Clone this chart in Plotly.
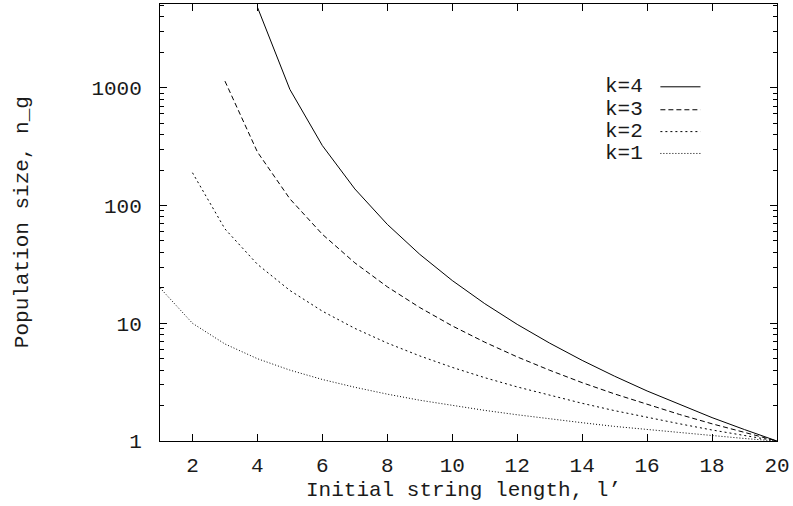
import plotly.graph_objects as go

FONT = "Liberation Mono"
FS = 21
TXT = "#1a1a1a"

# Data
l_k4 = list(range(4, 21))
n_k4 = [4845, 969, 323, 138.4, 69.2, 38.5, 23.07, 14.68, 9.79, 6.78, 4.84, 3.55, 2.66, 2.04, 1.58, 1.25, 1.0]
l_k3 = list(range(3, 21))
n_k3 = [1140, 285, 114, 57, 32.6, 20.4, 13.6, 9.5, 6.91, 5.18, 3.99, 3.13, 2.51, 2.04, 1.68, 1.40, 1.18, 1.0]
l_k2 = list(range(2, 21))
n_k2 = [190, 63.3, 31.7, 19, 12.67, 9.05, 6.79, 5.28, 4.22, 3.45, 2.88, 2.44, 2.09, 1.81, 1.58, 1.40, 1.24, 1.11, 1.0]
l_k1 = list(range(1, 21))
n_k1 = [20, 10, 6.67, 5, 4, 3.33, 2.86, 2.5, 2.22, 2, 1.82, 1.67, 1.54, 1.43, 1.33, 1.25, 1.18, 1.11, 1.05, 1.0]

series_labels = ["k=4", "k=3", "k=2", "k=1"]
series_x = [l_k4, l_k3, l_k2, l_k1]
series_y = [n_k4, n_k3, n_k2, n_k1]
dashes = ["solid", "5px,3px", "2px,3px", "1px,2px"]

x_ticks = [2, 4, 6, 8, 10, 12, 14, 16, 18, 20]
y_ticks = [1, 10, 100, 1000]
y_ticktext = ["1", "10", "100", "1000"]
y_minor = [m * d for d in (1, 10, 100, 1000) for m in range(2, 10)]

fig = go.Figure()
for lab, xs, ys, dsh in zip(series_labels, series_x, series_y, dashes):
    fig.add_trace(go.Scatter(x=xs, y=ys, mode="lines", name=lab,
                             line=dict(color="black", width=1, dash=dsh),
                             showlegend=False))

# invisible trace on yaxis2 to activate minor-tick axis
fig.add_trace(go.Scatter(x=[1], y=[1], yaxis="y2", mode="markers",
                         marker=dict(opacity=0), showlegend=False, hoverinfo="skip"))

yr = [0, 3.712]
fig.update_layout(
    width=793, height=506,
    margin=dict(l=160, r=13, t=3, b=65),
    paper_bgcolor="white", plot_bgcolor="white",
    font=dict(family=FONT, size=FS, color=TXT),
    xaxis=dict(range=[1, 20], tickvals=x_ticks, ticks="inside", ticklen=7,
               tickcolor="black", tickwidth=1, showline=True, linecolor="black",
               linewidth=1, mirror="ticks", showgrid=False, zeroline=False,
               tickfont=dict(family=FONT, size=FS, color=TXT), ticklabelstandoff=5),
    yaxis=dict(type="log", range=yr, tickvals=y_ticks, ticktext=y_ticktext,
               ticks="inside", ticklen=7, tickcolor="black", tickwidth=1,
               showline=True, linecolor="black", linewidth=1, mirror="ticks",
               showgrid=False, zeroline=False,
               tickfont=dict(family=FONT, size=FS, color=TXT), ticklabelstandoff=13),
    yaxis2=dict(type="log", range=yr, overlaying="y", side="left",
                tickvals=y_minor, ticks="inside", ticklen=4, tickcolor="black",
                tickwidth=1, showticklabels=False, showgrid=False,
                zeroline=False, showline=False, mirror="ticks"),
    showlegend=False,
)

# axis titles
fig.add_annotation(text="Initial string length, l\u2019", xref="paper", yref="paper",
                   x=0.492, y=-0.1142, xanchor="center", yanchor="middle",
                   showarrow=False, font=dict(family=FONT, size=FS, color=TXT))
fig.add_annotation(text="Population size, n_g", xref="paper", yref="paper",
                   x=-0.2226, y=0.5, xanchor="center", yanchor="middle",
                   textangle=-90, showarrow=False, font=dict(family=FONT, size=FS, color=TXT))

# key (gnuplot style: label then sample line)
key_y = [0.8105, 0.758, 0.708, 0.658]
for lab, ky, dsh in zip(series_labels, key_y, dashes):
    fig.add_annotation(text=lab, xref="paper", yref="paper", x=0.7855, y=ky,
                       xanchor="right", yanchor="middle", showarrow=False,
                       font=dict(family=FONT, size=FS, color=TXT))
    fig.add_shape(type="line", xref="paper", yref="paper", x0=0.811, x1=0.876,
                  y0=ky, y1=ky, line=dict(color="black", width=1, dash=dsh))

fig.write_html("out.html")
